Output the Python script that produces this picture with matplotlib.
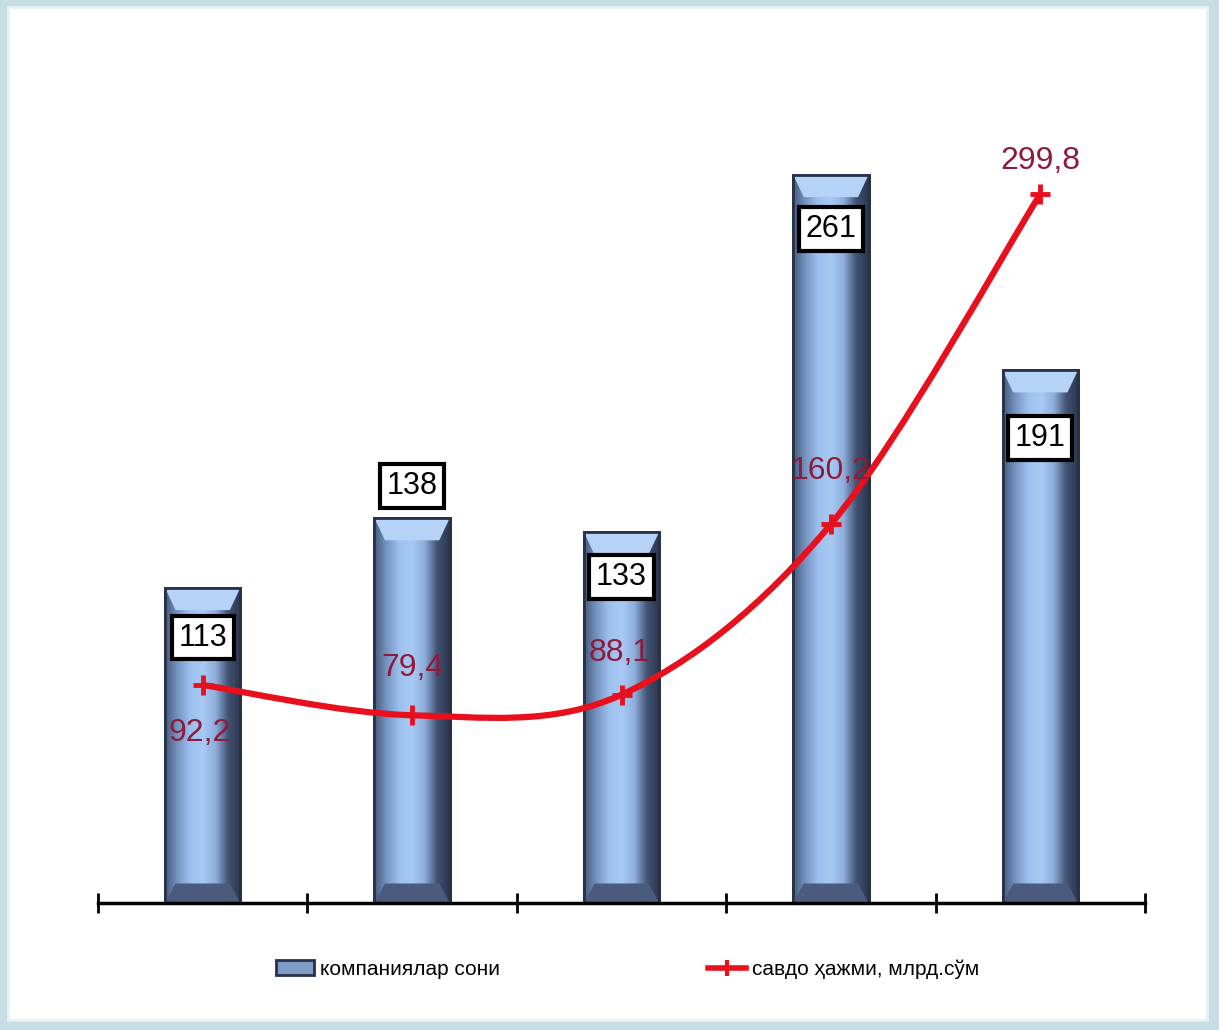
import numpy as np
import matplotlib
matplotlib.use("Agg")
import matplotlib.pyplot as plt
from matplotlib.path import Path
from matplotlib.patches import PathPatch, Patch, Polygon, Rectangle
from matplotlib.lines import Line2D
from matplotlib.colors import LinearSegmentedColormap

plt.rcParams['font.family'] = ['Liberation Sans', 'DejaVu Sans']

# data
companies = [113, 138, 133, 261, 191]
trade = [92.2, 79.4, 88.1, 160.2, 299.8]
trade_labels = ["92,2", "79,4", "88,1", "160,2", "299,8"]
legend_labels = ["компаниялар сони", "савдо ҳажми, млрд.сўм"]

# label placement (pixels relative to bar top / line point)
bar_lab_off = [-50, 32, -45, -54, -68]
line_lab_off = [(-3, -48), (0, 47), (-2, 42), (0, 53), (0, 33)]

fig = plt.figure(figsize=(12.19, 10.30), dpi=100)
fig.patch.set_facecolor('#c6dde4')
# white inner panel
fig.add_artist(Rectangle((8 / 1219, 10 / 1030), 1 - 20 / 1219, 1 - 17 / 1030,
                         transform=fig.transFigure, facecolor='white',
                         edgecolor='#e4f2f6', lw=2, zorder=0))

ax = fig.add_axes([98 / 1219, 127 / 1030, 1047 / 1219, 837 / 1030])
ax.set_facecolor('none')
ax2 = ax.twinx()

x = np.arange(len(companies))
w = 0.36
ax.set_xlim(-0.5, len(companies) - 0.5)
ax.set_ylim(0, 300)
ax2.set_ylim(0, 354)

bars = ax.bar(x, companies, width=w, color='#8fb2e0', edgecolor='#27324a',
              lw=2, zorder=2)

cmap = LinearSegmentedColormap.from_list(
    'cyl', ['#465a7c', '#7794c2', '#9dc1ef', '#a8caf4', '#8eaedb', '#425273', '#2c364c'])
grad = np.linspace(0, 1, 256).reshape(1, -1)
for b in bars:
    x0, h, bw = b.get_x(), b.get_height(), b.get_width()
    im = ax.imshow(grad, extent=[x0, x0 + bw, 0, h], aspect='auto',
                   cmap=cmap, zorder=2.1)
    im.set_clip_path(b)
    # top bevel
    ax.add_patch(Polygon([[x0, h], [x0 + bw, h], [x0 + bw * 0.86, h - 8],
                          [x0 + bw * 0.14, h - 8]], closed=True,
                         facecolor='#b6d2f6', edgecolor='none', zorder=2.2))
    # bottom band
    ax.add_patch(Polygon([[x0, 0], [x0 + bw, 0], [x0 + bw * 0.86, 7],
                          [x0 + bw * 0.14, 7]], closed=True,
                         facecolor='#4b5b7d', edgecolor='none', zorder=2.2))
    ax.add_patch(Rectangle((x0, 0), bw, h, facecolor='none',
                           edgecolor='#27324a', lw=2, zorder=2.3))

for xi, v, off in zip(x, companies, bar_lab_off):
    ax.annotate(str(v), (xi, v), xytext=(0, off), textcoords='offset pixels',
                ha='center', va='center', fontsize=22, color='black', zorder=5,
                bbox=dict(boxstyle='square,pad=0.22', facecolor='white',
                          edgecolor='black', lw=3))

# smoothed line (Catmull-Rom -> cubic Bezier through the data points)
pts = np.column_stack([x, trade])
verts = [pts[0]]
codes = [Path.MOVETO]
for i in range(len(pts) - 1):
    p0 = pts[i - 1] if i > 0 else pts[i]
    p1, p2 = pts[i], pts[i + 1]
    p3 = pts[i + 2] if i + 2 < len(pts) else pts[i + 1]
    c1 = p1 + (p2 - p0) / 6
    c2 = p2 - (p3 - p1) / 6
    verts += [c1, c2, p2]
    codes += [Path.CURVE4] * 3
ax2.add_patch(PathPatch(Path(verts, codes), facecolor='none',
                        edgecolor='#e8101c', lw=4.5, zorder=3))
ax2.plot(x, trade, ls='none', marker='+', ms=14, mew=3.5, color='#e8101c', zorder=4)

for xi, v, lab, (dx, dy) in zip(x, trade, trade_labels, line_lab_off):
    ax2.annotate(lab, (xi, v), xytext=(dx, dy), textcoords='offset pixels',
                 ha='center', va='center', fontsize=23, color='#8e1a3c', zorder=6)

# axes styling
for a in (ax, ax2):
    for s in ['top', 'right', 'left']:
        a.spines[s].set_visible(False)
    a.set_yticks([])
ax2.spines['bottom'].set_visible(False)
ax.spines['bottom'].set_linewidth(2.5)
ax.set_xticks(np.arange(-0.5, len(companies)))
ax.set_xticklabels([])
ax.tick_params(axis='x', direction='inout', length=14, width=2)

handles = [Patch(facecolor='#7f9cc8', edgecolor='#27324a', lw=2),
           Line2D([0], [0], color='#e8101c', lw=4, marker='+', ms=12, mew=3)]
fig.legend(handles, legend_labels, loc='center', ncol=2,
           bbox_to_anchor=(0.515, 0.059), frameon=False, fontsize=15,
           columnspacing=10, handlelength=1.8, handletextpad=0.3)

fig.savefig('out.png', dpi=100, facecolor=fig.get_facecolor())
